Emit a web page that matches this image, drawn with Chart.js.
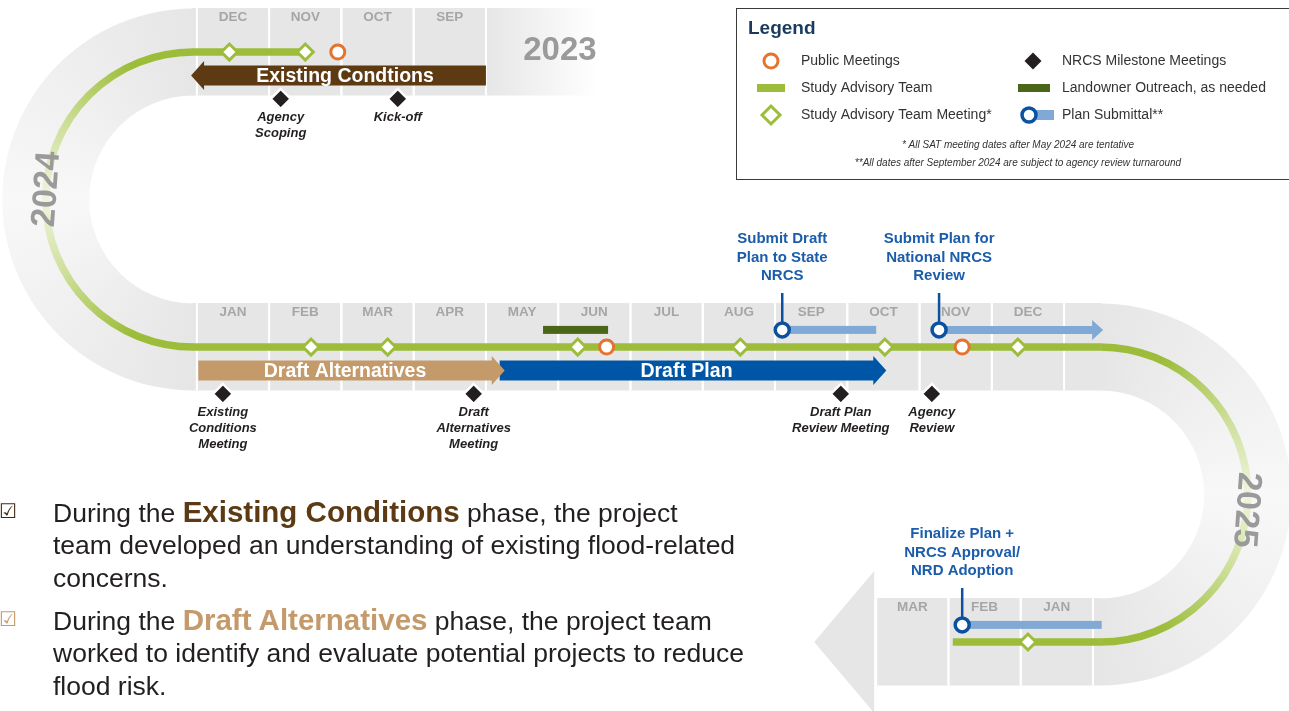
<!DOCTYPE html>
<html>
<head>
<meta charset="utf-8">
<title>Watershed plan timeline</title>
<script src="https://cdn.jsdelivr.net/npm/chart.js@4.4.1/dist/chart.umd.min.js"></script>
<style>
  body { margin: 0; background: #fff; }
  #wrap { position: relative; width: 1289px; height: 711px; overflow: hidden; font-family: "Liberation Sans", Arial, sans-serif; }
  #timeline { position: absolute; left: 0; top: 0; }
  .note { position: absolute; left: 53px; font-size: 26.5px; line-height: 32.4px; color: #231f20; white-space: nowrap; }
  .note b { font-size: 29.5px; }
  .tick { position: absolute; left: -1px; font-family: "DejaVu Sans", sans-serif; font-size: 20px; line-height: 22px; }
</style>
</head>
<body>
<div id="wrap">
  <canvas id="timeline" width="1289" height="711"></canvas>
  <span class="tick" style="top:500px;color:#3e2b14">☑</span>
  <div class="note" style="top:496px">During the <b style="color:#5c3a13">Existing Conditions</b> phase, the project<br>team developed an understanding of existing flood-related<br>concerns.</div>
  <span class="tick" style="top:608px;color:#c49a6b">☑</span>
  <div class="note" style="top:604px">During the <b style="color:#c49a6b">Draft Alternatives</b> phase, the project team<br>worked to identify and evaluate potential projects to reduce<br>flood risk.</div>
</div>
<script>
// months shown on each row of the road
const months2023 = [9, 10, 11, 12];
const months2024 = [1, 2, 3, 4, 5, 6, 7, 8, 9, 10, 11, 12];
const months2025 = [1, 2, 3];
const monthNames = ['JAN', 'FEB', 'MAR', 'APR', 'MAY', 'JUN', 'JUL', 'AUG', 'SEP', 'OCT', 'NOV', 'DEC'];
const yearLabels = ['2023', '2024', '2025'];

// events as [year, month]; a whole month number is the middle of that month
const publicMeetings = [[2023, 10.55], [2024, 6.17], [2024, 11.09]];
const satMeetings = [[2023, 11.0], [2023, 12.05], [2024, 2.08], [2024, 3.14], [2024, 5.77],
                     [2024, 8.02], [2024, 10.02], [2024, 11.86], [2025, 1.4]];
const satSpan = [[2023, 11.0], [2025, 2.44]];
const nrcsMilestones = [[2023, 9.72], [2023, 11.34], [2024, 0.86], [2024, 4.33], [2024, 9.41], [2024, 10.67]];
const nrcsLabels = [['Kick-off'], ['Agency', 'Scoping'], ['Existing', 'Conditions', 'Meeting'],
                    ['Draft', 'Alternatives', 'Meeting'], ['Draft Plan', 'Review Meeting'], ['Agency', 'Review']];
const planSubmittals = [[2024, 8.6], [2024, 10.77], [2025, 2.31]];
const submittalEnds = [[2024, 9.9], [2024, 13.04], [2025, 0.38]];
const submittalArrow = [false, true, false];
const submittalLabels = [['Submit Draft', 'Plan to State', 'NRCS'],
                         ['Submit Plan for', 'National NRCS', 'Review'],
                         ['Finalize Plan +', 'NRCS Approval/', 'NRD Adoption']];
const landowner = [[2024, 5.29], [2024, 6.19]];
const phaseNames = ['Existing Condtions', 'Draft Alternatives', 'Draft Plan'];
const phaseStart = [[2023, 8.5], [2024, 0.52], [2024, 4.69]];
const phaseEnd = [[2023, 12.58], [2024, 4.76], [2024, 10.04]];

const C = {
  green: '#9dbd3a', greenMid: '#cfe09d', greenPale: '#eff5de',
  road: '#e6e6e6', roadPale: '#f8f8f8',
  orange: '#e5722d', navy: '#0c519f', sky: '#80a9d5', olive: '#4b6619',
  black: '#231f20', month: '#a6a6a6', year: '#9a9a9a',
  blueText: '#1b5dab', legendTitle: '#1b3b5e'
};
const phaseColors = ['#5e3a13', '#c49a6b', '#0056a6'];
const FONT = '"Liberation Sans", Arial, sans-serif';

// the road: 2023 runs right-to-left on top, 2024 left-to-right, 2025 right-to-left at the bottom
function toCol(year, m) {
  if (year === 2023) return 12 - m;
  if (year === 2024) return m - 1;
  return 12.4 - m;
}
function toRow(year) { return year - 2023; }
const TURN_LEFT = -0.55, TURN_RIGHT = 12.0;
const OFF_SUBMIT = -0.058, OFF_NRCS = 0.159;
const pt = (d, off = 0) => ({ x: toCol(d[0], d[1]), y: toRow(d[0]) + off });

function geo(chart) {
  const xs = chart.scales.x, ys = chart.scales.y;
  const X = c => xs.getPixelForValue(c);
  const Y = r => ys.getPixelForValue(r);
  return { X, Y, P: (d, dy = 0) => [X(toCol(d[0], d[1])), Y(toRow(d[0])) + dy], rowPx: Y(1) - Y(0) };
}

function sweep(ctx, start, cx, cy, stops) {
  if (!ctx.createConicGradient) return stops[0][1];
  const gr = ctx.createConicGradient(start, cx, cy);
  stops.forEach(s => gr.addColorStop(s[0], s[1]));
  return gr;
}

function arrowShape(ctx, xa, xb, yc, hb, hh, hl) {
  const dir = Math.sign(xb - xa);
  const xh = xb - dir * hl;
  ctx.beginPath();
  ctx.moveTo(xa, yc - hb); ctx.lineTo(xh, yc - hb); ctx.lineTo(xh, yc - hh);
  ctx.lineTo(xb, yc); ctx.lineTo(xh, yc + hh); ctx.lineTo(xh, yc + hb);
  ctx.lineTo(xa, yc + hb); ctx.closePath(); ctx.fill();
}

function diamond(ctx, x, y, r) {
  ctx.beginPath();
  ctx.moveTo(x - r, y); ctx.lineTo(x, y - r); ctx.lineTo(x + r, y); ctx.lineTo(x, y + r);
  ctx.closePath();
}

const roadPlugin = {
  id: 'road',
  beforeDatasetsDraw(chart) {
    const ctx = chart.ctx;
    const g = geo(chart);
    const up = 44, down = 43.5;
    const rL = g.rowPx / 2;
    const xl = g.X(TURN_LEFT), xr = g.X(TURN_RIGHT);
    ctx.save();

    // grey band, top row fades out past September
    const xTopEnd = g.X(toCol(2023, 8.5));
    const fade = ctx.createLinearGradient(xTopEnd, 0, xTopEnd + 112, 0);
    fade.addColorStop(0, C.road); fade.addColorStop(1, 'rgba(230,230,230,0)');
    ctx.fillStyle = fade;
    ctx.fillRect(xl - 1, g.Y(0) - up, xTopEnd + 112 - xl, up + down);
    ctx.fillStyle = C.road;
    ctx.fillRect(xl - 1, g.Y(1) - up, xr - xl + 2, up + down);
    const xBotStart = g.X(toCol(2025, 3.5));
    ctx.fillRect(xBotStart, g.Y(2) - up, xr - xBotStart + 1, up + down);
    // big arrow head at the end of the road
    ctx.beginPath();
    ctx.moveTo(xBotStart - 2, g.Y(2) - 71); ctx.lineTo(xBotStart - 62, g.Y(2));
    ctx.lineTo(xBotStart - 2, g.Y(2) + 71); ctx.closePath(); ctx.fill();

    // the two bends
    const rOut = rL + 43.5, rIn = rL - 43.5;
    const bandStops = [[0, C.road], [0.25, C.roadPale], [0.5, C.road], [1, C.road]];
    let cx = xl, cy = g.Y(0.5);
    ctx.fillStyle = sweep(ctx, Math.PI / 2, cx, cy, bandStops);
    ctx.beginPath();
    ctx.arc(cx, cy, rOut, -Math.PI / 2, Math.PI / 2, true);
    ctx.arc(cx, cy, rIn, Math.PI / 2, -Math.PI / 2, false);
    ctx.closePath(); ctx.fill();
    cx = xr; cy = g.Y(1.5);
    ctx.fillStyle = sweep(ctx, -Math.PI / 2, cx, cy, bandStops);
    ctx.beginPath();
    ctx.arc(cx, cy, rOut, -Math.PI / 2, Math.PI / 2, false);
    ctx.arc(cx, cy, rIn, Math.PI / 2, -Math.PI / 2, true);
    ctx.closePath(); ctx.fill();

    // month columns and names
    const rows = [[2023, months2023], [2024, months2024], [2025, months2025]];
    ctx.strokeStyle = '#fff'; ctx.lineWidth = 2;
    ctx.font = 'bold 13.5px ' + FONT; ctx.fillStyle = C.month;
    ctx.textAlign = 'center'; ctx.textBaseline = 'middle';
    rows.forEach(([yr, ms]) => {
      const y = g.Y(toRow(yr));
      ms.forEach(m => {
        [m - 0.5, m + 0.5].forEach(e => {
          const x = g.X(toCol(yr, e));
          ctx.beginPath(); ctx.moveTo(x, y - up); ctx.lineTo(x, y + down); ctx.stroke();
        });
        ctx.fillText(monthNames[m - 1], g.X(toCol(yr, m)), y - 35);
      });
    });

    // study advisory team line
    ctx.lineWidth = 7.5;
    ctx.strokeStyle = C.green;
    const [sx, sy] = g.P(satSpan[0]);
    const [ex, ey] = g.P(satSpan[1]);
    ctx.beginPath(); ctx.moveTo(sx, sy); ctx.lineTo(xl - 0.5, g.Y(0)); ctx.stroke();
    ctx.beginPath(); ctx.moveTo(xl - 0.5, g.Y(1)); ctx.lineTo(xr + 0.5, g.Y(1)); ctx.stroke();
    ctx.beginPath(); ctx.moveTo(xr + 0.5, g.Y(2)); ctx.lineTo(ex, ey); ctx.stroke();
    const lineStops = [[0, C.green], [0.07, C.green], [0.17, C.greenMid], [0.25, C.greenPale],
                       [0.33, C.greenMid], [0.43, C.green], [0.5, C.green], [1, C.green]];
    ctx.strokeStyle = sweep(ctx, Math.PI / 2, xl, g.Y(0.5), lineStops);
    ctx.beginPath(); ctx.arc(xl, g.Y(0.5), rL, -Math.PI / 2, Math.PI / 2, true); ctx.stroke();
    ctx.strokeStyle = sweep(ctx, -Math.PI / 2, xr, g.Y(1.5), lineStops);
    ctx.beginPath(); ctx.arc(xr, g.Y(1.5), rL, -Math.PI / 2, Math.PI / 2, false); ctx.stroke();

    // landowner outreach
    const dyBar = OFF_SUBMIT * g.rowPx;
    const [lx0, ly] = g.P(landowner[0], dyBar);
    const [lx1] = g.P(landowner[1], dyBar);
    ctx.fillStyle = C.olive;
    ctx.fillRect(lx0, ly - 4, lx1 - lx0, 8);

    // plan submittal review bars and stems
    planSubmittals.forEach((d, i) => {
      const [x0, y0] = g.P(d, dyBar);
      const [x1] = g.P(submittalEnds[i], dyBar);
      ctx.fillStyle = C.sky;
      if (submittalArrow[i]) arrowShape(ctx, x0, x1, y0, 4, 10, 11);
      else ctx.fillRect(Math.min(x0, x1), y0 - 4, Math.abs(x1 - x0), 8);
      ctx.strokeStyle = C.navy; ctx.lineWidth = 2.5;
      ctx.beginPath(); ctx.moveTo(x0, y0); ctx.lineTo(x0, g.Y(toRow(d[0])) - 54); ctx.stroke();
    });

    // phase arrows (later phases underneath)
    for (let i = phaseNames.length - 1; i >= 0; i--) {
      const [xa, y] = g.P(phaseStart[i], 23.5);
      const [xb] = g.P(phaseEnd[i]);
      ctx.fillStyle = phaseColors[i];
      arrowShape(ctx, xa, xb, y, 10, 14.5, 13);
      const xh = xb - Math.sign(xb - xa) * 13;
      ctx.fillStyle = '#fff'; ctx.font = 'bold 19.5px ' + FONT;
      ctx.fillText(phaseNames[i], (xa + xh) / 2, y + 1);
    }
    ctx.restore();
  },

  afterDatasetsDraw(chart) {
    const ctx = chart.ctx;
    const g = geo(chart);
    ctx.save();
    ctx.textAlign = 'center'; ctx.textBaseline = 'middle';

    // milestone captions
    ctx.fillStyle = C.black; ctx.font = 'italic bold 13px ' + FONT;
    nrcsMilestones.forEach((d, i) => {
      const [x, y] = g.P(d, OFF_NRCS * g.rowPx);
      nrcsLabels[i].forEach((s, k) => ctx.fillText(s, x, y + 19 + k * 16));
    });

    // submittal captions
    ctx.fillStyle = C.blueText; ctx.font = 'bold 15px ' + FONT;
    planSubmittals.forEach((d, i) => {
      const x = g.P(d)[0];
      const top = g.Y(toRow(d[0])) - 54;
      const ls = submittalLabels[i];
      ls.forEach((s, k) => ctx.fillText(s, x, top - 17 - (ls.length - 1 - k) * 18.5));
    });

    // year labels
    ctx.fillStyle = C.year; ctx.font = 'bold 33px ' + FONT;
    ctx.fillText(yearLabels[0], g.X(toCol(2023, 8.5)) + 74, g.Y(0) - 1);
    const rL = g.rowPx / 2;
    ctx.font = 'bold 34px ' + FONT;
    let a = Math.PI + 0.07;
    ctx.save();
    ctx.translate(g.X(TURN_LEFT) + rL * Math.cos(a), g.Y(0.5) + rL * Math.sin(a));
    ctx.rotate(-Math.PI / 2 + 0.07);
    ctx.fillText(yearLabels[1], 0, 1);
    ctx.restore();
    a = 0.105;
    ctx.save();
    ctx.translate(g.X(TURN_RIGHT) + rL * Math.cos(a), g.Y(1.5) + rL * Math.sin(a));
    ctx.rotate(Math.PI / 2 + 0.07);
    ctx.fillText(yearLabels[2], 0, 1);
    ctx.restore();

    // legend box
    ctx.strokeStyle = '#3a3a3a'; ctx.lineWidth = 1;
    ctx.strokeRect(736.5, 8.5, 600, 171);
    ctx.textAlign = 'left';
    ctx.fillStyle = C.legendTitle; ctx.font = 'bold 19px ' + FONT;
    ctx.fillText('Legend', 748, 29);
    const c1 = 771, c2 = 1033, r1 = 61, r2 = 88, r3 = 115;
    // symbols
    ctx.lineWidth = 3; ctx.strokeStyle = C.orange; ctx.fillStyle = '#fff';
    ctx.beginPath(); ctx.arc(c1, r1, 7, 0, Math.PI * 2); ctx.fill(); ctx.stroke();
    ctx.fillStyle = C.green; ctx.fillRect(c1 - 14, r2 - 4, 28, 8);
    ctx.strokeStyle = C.green; ctx.fillStyle = '#fff';
    diamond(ctx, c1, r3, 9); ctx.fill(); ctx.stroke();
    ctx.fillStyle = C.black; diamond(ctx, c2, r1, 8.5); ctx.fill();
    ctx.fillStyle = C.olive; ctx.fillRect(c2 - 15, r2 - 4, 32, 8);
    ctx.fillStyle = C.sky; ctx.fillRect(c2, r3 - 5, 21, 10);
    ctx.strokeStyle = C.navy; ctx.lineWidth = 3.5; ctx.fillStyle = '#fff';
    ctx.beginPath(); ctx.arc(c2 - 4, r3, 7, 0, Math.PI * 2); ctx.fill(); ctx.stroke();
    // texts
    ctx.fillStyle = '#333'; ctx.font = '14px ' + FONT;
    ctx.fillText('Public Meetings', 801, r1);
    ctx.fillText('Study Advisory Team', 801, r2);
    ctx.fillText('Study Advisory Team Meeting*', 801, r3);
    ctx.fillText('NRCS Milestone Meetings', 1062, r1);
    ctx.fillText('Landowner Outreach, as needed', 1062, r2);
    ctx.fillText('Plan Submittal**', 1062, r3);
    ctx.textAlign = 'center'; ctx.font = 'italic 10px ' + FONT;
    ctx.fillText('* All SAT meeting dates after May 2024 are tentative', 1018, 145);
    ctx.fillText('**All dates after September 2024 are subject to agency review turnaround', 1018, 163);
    ctx.restore();
  }
};

new Chart(document.getElementById('timeline'), {
  type: 'scatter',
  data: {
    datasets: [
      {
        label: 'Plan Submittal**',
        data: planSubmittals.map(d => pt(d, OFF_SUBMIT)),
        pointStyle: 'circle', pointRadius: 7, pointBorderWidth: 3.5,
        pointBorderColor: C.navy, pointBackgroundColor: '#fff'
      },
      {
        label: 'Public Meetings',
        data: publicMeetings.map(d => pt(d)),
        pointStyle: 'circle', pointRadius: 7, pointBorderWidth: 3,
        pointBorderColor: C.orange, pointBackgroundColor: '#fff'
      },
      {
        label: 'Study Advisory Team Meeting*',
        data: satMeetings.map(d => pt(d)),
        pointStyle: 'rectRot', pointRadius: 8, pointBorderWidth: 3,
        pointBorderColor: C.green, pointBackgroundColor: '#fff'
      },
      {
        label: 'NRCS Milestone Meetings',
        data: nrcsMilestones.map(d => pt(d, OFF_NRCS)),
        pointStyle: 'rectRot', pointRadius: 10, pointBorderWidth: 2.5,
        pointBorderColor: '#fff', pointBackgroundColor: C.black
      }
    ]
  },
  options: {
    responsive: false,
    animation: false,
    events: [],
    layout: { padding: 0, autoPadding: false },
    datasets: { scatter: { clip: false } },
    plugins: { legend: { display: false }, tooltip: { enabled: false } },
    scales: {
      x: { type: 'linear', display: false, min: -3.224, max: 14.612 },
      y: { type: 'linear', display: false, reverse: true, min: -0.1763, max: 2.2339 }
    }
  },
  plugins: [roadPlugin]
});
</script>
</body>
</html>
